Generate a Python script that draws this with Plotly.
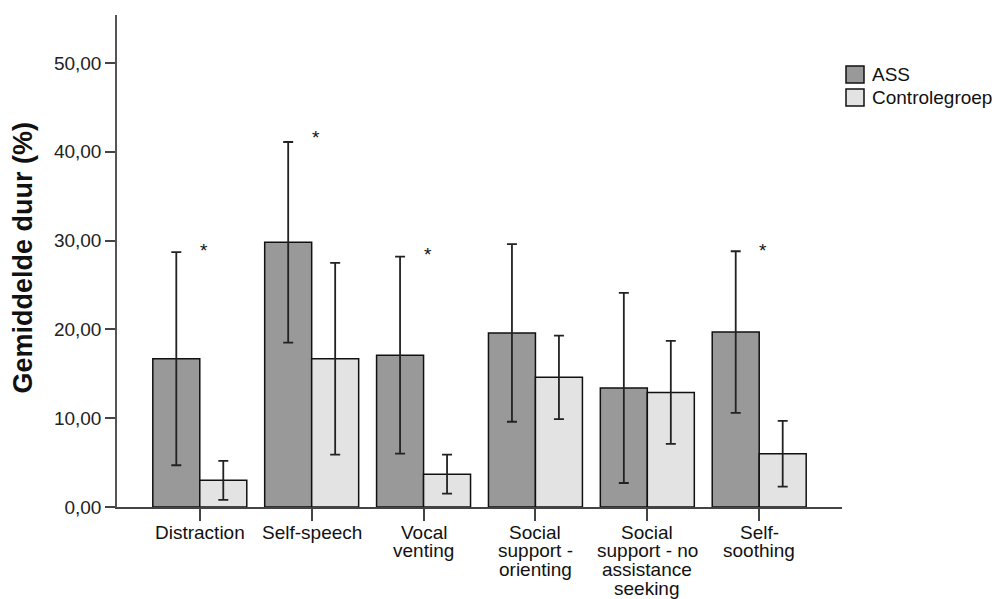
import plotly.graph_objects as go

categories = ["Distraction", "Self-speech", "Vocal venting", "Social support - orienting",
              "Social support - no assistance seeking", "Self-soothing"]
tick_lines = [["Distraction"], ["Self-speech"], ["Vocal", "venting"], ["Social", "support -", "orienting"],
              ["Social", "support - no", "assistance", "seeking"], ["Self-", "soothing"]]
ass_mean = [16.7, 29.8, 17.1, 19.6, 13.4, 19.7]
ass_err = [12.0, 11.3, 11.1, 10.0, 10.7, 9.1]
ctrl_mean = [3.0, 16.7, 3.7, 14.6, 12.9, 6.0]
ctrl_err = [2.2, 10.8, 2.2, 4.7, 5.8, 3.7]
sig_cats = ["Distraction", "Self-speech", "Vocal venting", "Self-soothing"]
sig_y = [29.0, 41.7, 28.6, 29.0]
y_ticks = [0, 10, 20, 30, 40, 50]
series_names = ["ASS", "Controlegroep"]

FONT = "Liberation Sans, Arial, sans-serif"
ASS_COLOR = "#999999"
CTRL_COLOR = "#e3e3e3"
series_colors = [ASS_COLOR, CTRL_COLOR]

# plot area placed to match reference pixels (page body margin removed below)
L, R, T, B = 117, 153, 15, 91.5
W, H = 995, 599
PW = W - L - R
PH = H - T - B


def px_x(x):
    return (x - L) / PW


def px_y(y):
    return (H - B - y) / PH


fig = go.Figure()
for name, mean, err, col in [("ASS", ass_mean, ass_err, ASS_COLOR),
                             ("Controlegroep", ctrl_mean, ctrl_err, CTRL_COLOR)]:
    fig.add_trace(go.Bar(
        name=name, x=categories, y=mean, showlegend=False,
        marker=dict(color=col, line=dict(color="#111111", width=1.5)),
        error_y=dict(type="data", array=err, visible=True, color="#222222", thickness=1.8, width=5),
    ))

# legend (swatches + labels)
for i, (name, col) in enumerate(zip(series_names, series_colors)):
    top = 66 + 23 * i
    fig.add_shape(type="rect", xref="paper", yref="paper",
                  x0=px_x(846), x1=px_x(864), y0=px_y(top + 17), y1=px_y(top),
                  fillcolor=col, line=dict(color="#111111", width=1.5))
    fig.add_annotation(x=px_x(871), xref="paper", y=px_y(top + 9), yref="paper", text=name,
                       showarrow=False, xanchor="left", yanchor="middle", borderpad=0,
                       font=dict(family=FONT, size=19, color="#111111"))

for c, yv in zip(sig_cats, sig_y):
    fig.add_annotation(x=c, y=yv, text="*", showarrow=False, xshift=4, yshift=-1,
                       font=dict(family=FONT, size=19, color="#111111"))

# category labels, one line each with tight line spacing
for c, lines in zip(categories, tick_lines):
    for i, line in enumerate(lines):
        fig.add_annotation(x=c, xref="x", y=0, yref="paper", text=line, showarrow=False,
                           yanchor="middle", xanchor="center", yshift=-(25 + 18.7 * i), borderpad=0,
                           font=dict(family=FONT, size=19, color="#111111"))

# y-axis title
fig.add_annotation(x=px_x(23), xref="paper", y=0.507, yref="paper",
                   text="<b>Gemiddelde duur (%)</b>", textangle=-90, showarrow=False,
                   xanchor="center", yanchor="middle",
                   font=dict(family=FONT, size=27, color="#111111"))

fig.update_layout(
    width=W, height=H,
    margin=dict(l=L, r=R, t=T, b=B),
    paper_bgcolor="white", plot_bgcolor="white",
    barmode="group", bargap=0.16, bargroupgap=0,
    separators=",.",
    font=dict(family=FONT, size=19, color="#222222"),
    showlegend=False,
    xaxis=dict(type="category", range=[-0.74, 5.74], showline=True, linecolor="#444444", linewidth=1.5,
               ticks="outside", ticklen=12, tickcolor="#444444", tickwidth=1.5,
               showticklabels=False, showgrid=False, zeroline=False, automargin=False),
    yaxis=dict(range=[0, 55.4], showline=True, linecolor="#555555", linewidth=1.5,
               ticks="outside", ticklen=10, tickcolor="#444444", tickwidth=1.8,
               tickvals=y_ticks, tickformat=".2f",
               tickfont=dict(family=FONT, size=19, color="#222222"), showgrid=False, zeroline=False,
               automargin=False),
)

fig.write_html("out.html", config={"displayModeBar": False},
               post_script="document.body.style.margin='0';document.body.style.overflow='hidden';")
